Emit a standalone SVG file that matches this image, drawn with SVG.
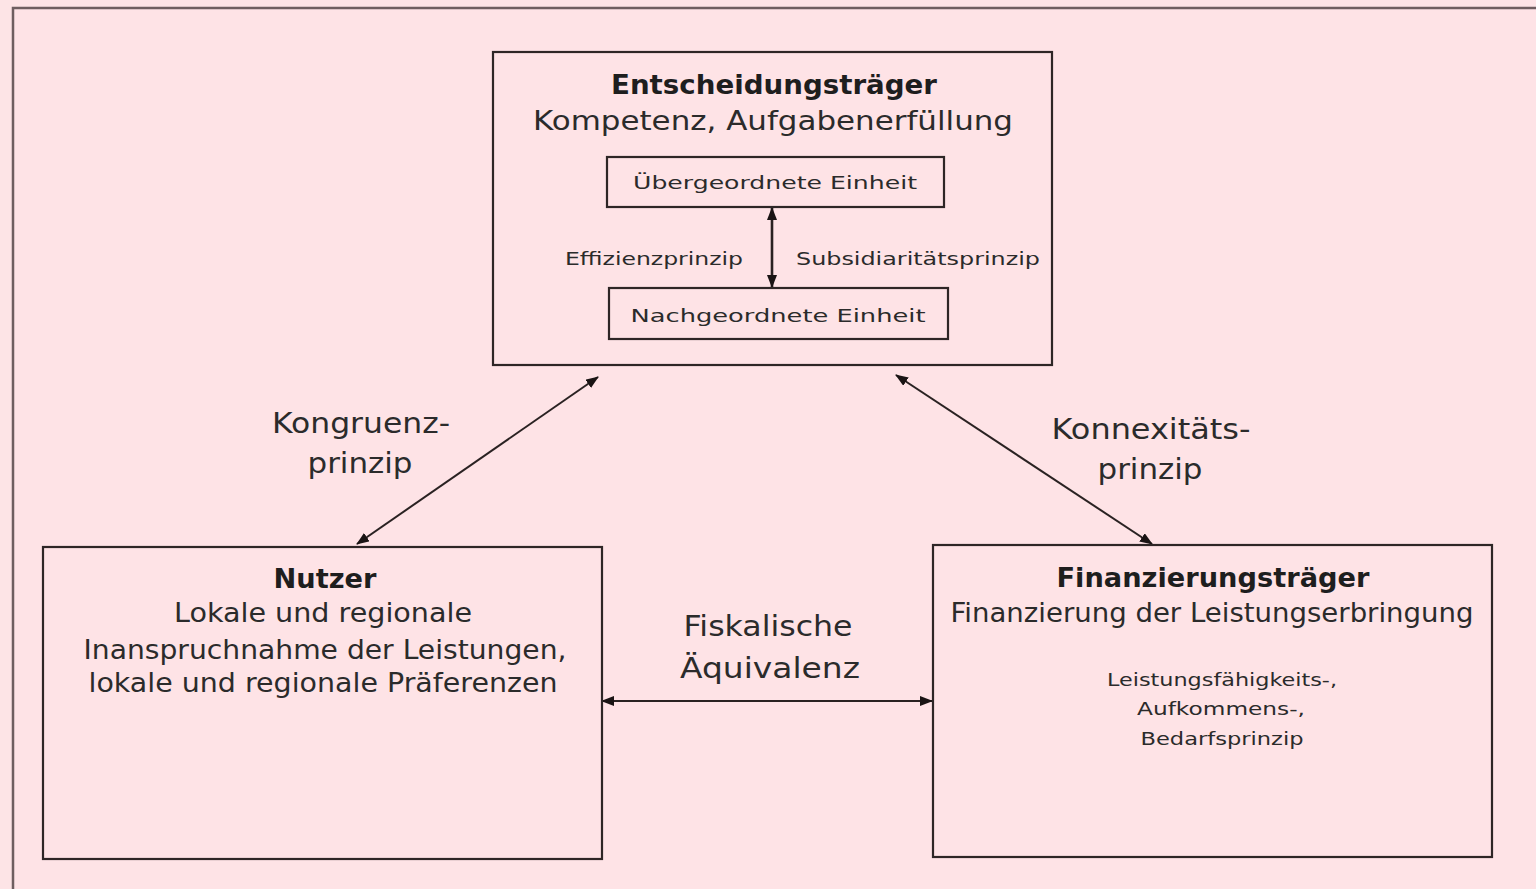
<svg xmlns="http://www.w3.org/2000/svg" width="1536" height="889" viewBox="0 0 1536 889">
<defs>
<style>
text{font-family:"DejaVu Sans","Liberation Sans",sans-serif;fill:#2b2b2b;text-anchor:middle}
.b{font-weight:bold;font-size:27px;fill:#1e1e1e}
.m{font-size:26px}
.s{font-size:18px}
.l{font-size:29px}
.box{fill:none;stroke:#2e2626;stroke-width:2.2}
.con{stroke:#2a2222;stroke-width:2;fill:none;marker-start:url(#ah);marker-end:url(#ah)}
</style>
<marker id="ah" viewBox="0 0 13 10" refX="12" refY="5" markerWidth="13" markerHeight="10" orient="auto-start-reverse" markerUnits="userSpaceOnUse">
<path d="M0,0 L13,5 L0,10 z" fill="#1a1414"/>
</marker>
</defs>
<rect x="0" y="0" width="1536" height="889" fill="#fde4e6"/>
<rect x="13" y="8" width="1700" height="1000" fill="#fee3e6" stroke="#6e5e60" stroke-width="2.5"/>

<g id="connectors">
<line class="con" x1="772" y1="208" x2="772" y2="287" style="stroke-width:2.6"/>
<line class="con" x1="598" y1="377" x2="357" y2="544"/>
<line class="con" x1="896" y1="375" x2="1152" y2="544"/>
<line class="con" x1="602" y1="701" x2="932" y2="701"/>
</g>

<g id="entscheidungstraeger">
<rect class="box" x="493" y="52" width="559" height="313"/>
<text class="b" x="774" y="94" textLength="326" lengthAdjust="spacingAndGlyphs">Entscheidungsträger</text>
<text class="m" x="773" y="130" textLength="480" lengthAdjust="spacingAndGlyphs">Kompetenz, Aufgabenerfüllung</text>
</g>
<g id="uebergeordnete">
<rect class="box" x="607" y="157" width="337" height="50"/>
<text class="s" x="775" y="189" textLength="284" lengthAdjust="spacingAndGlyphs">Übergeordnete Einheit</text>
</g>
<g id="nachgeordnete">
<rect class="box" x="609" y="288" width="339" height="51"/>
<text class="s" x="778" y="322" textLength="295" lengthAdjust="spacingAndGlyphs">Nachgeordnete Einheit</text>
</g>
<g id="labels-inner">
<text class="s" x="654" y="265" textLength="178" lengthAdjust="spacingAndGlyphs">Effizienzprinzip</text>
<text class="s" x="918" y="265" textLength="244" lengthAdjust="spacingAndGlyphs">Subsidiaritätsprinzip</text>
</g>

<g id="nutzer">
<rect class="box" x="43" y="547" width="559" height="312"/>
<text class="b" x="325" y="588" textLength="103" lengthAdjust="spacingAndGlyphs">Nutzer</text>
<text class="m" x="323" y="622" textLength="298" lengthAdjust="spacingAndGlyphs">Lokale und regionale</text>
<text class="m" x="325" y="659" textLength="483" lengthAdjust="spacingAndGlyphs">Inanspruchnahme der Leistungen,</text>
<text class="m" x="323" y="692" textLength="469" lengthAdjust="spacingAndGlyphs">lokale und regionale Präferenzen</text>
</g>

<g id="finanzierungstraeger">
<rect class="box" x="933" y="545" width="559" height="312"/>
<text class="b" x="1213" y="587" textLength="313" lengthAdjust="spacingAndGlyphs">Finanzierungsträger</text>
<text class="m" x="1212" y="622" textLength="523" lengthAdjust="spacingAndGlyphs">Finanzierung der Leistungserbringung</text>
<text class="s" x="1222" y="686" textLength="230" lengthAdjust="spacingAndGlyphs">Leistungsfähigkeits-,</text>
<text class="s" x="1221" y="715" textLength="168" lengthAdjust="spacingAndGlyphs">Aufkommens-,</text>
<text class="s" x="1222" y="745" textLength="163" lengthAdjust="spacingAndGlyphs">Bedarfsprinzip</text>
</g>

<g id="edge-labels">
<text class="l" x="361" y="433" textLength="178" lengthAdjust="spacingAndGlyphs">Kongruenz-</text>
<text class="l" x="360" y="473" textLength="105" lengthAdjust="spacingAndGlyphs">prinzip</text>
<text class="l" x="1151" y="439" textLength="199" lengthAdjust="spacingAndGlyphs">Konnexitäts-</text>
<text class="l" x="1150" y="479" textLength="105" lengthAdjust="spacingAndGlyphs">prinzip</text>
<text class="l" x="768" y="636" textLength="169" lengthAdjust="spacingAndGlyphs">Fiskalische</text>
<text class="l" x="770" y="678" textLength="180" lengthAdjust="spacingAndGlyphs">Äquivalenz</text>
</g>
</svg>
